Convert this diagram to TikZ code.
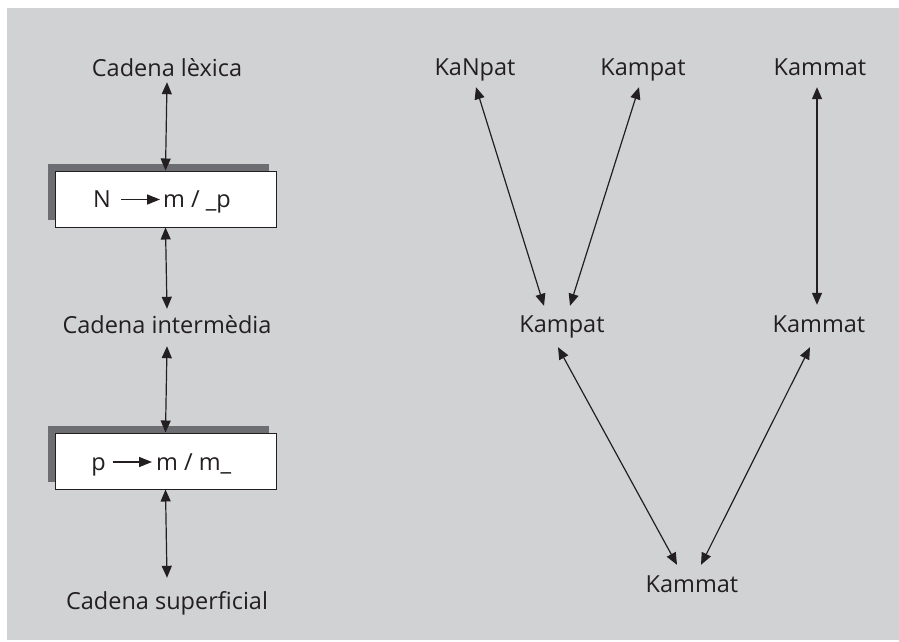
\documentclass[tikz,border=0pt]{standalone}
\usepackage{fontspec}
\setmainfont{Open Sans}
\usetikzlibrary{arrows.meta,shadows}
\definecolor{bggray}{HTML}{D1D2D4}
\definecolor{shgray}{HTML}{6D6E71}
\definecolor{ink}{HTML}{231F20}
\begin{document}
\begin{tikzpicture}[x=1pt,y=-1pt,
  lbl/.style={inner sep=0pt,anchor=base,text height=16pt,text depth=5pt,font=\fontsize{23.5}{28}\selectfont,text=ink},
  rulebox/.style={draw=ink,line width=1pt,fill=white,minimum width=221pt,minimum height=56pt,inner sep=0pt,
     general shadow={fill=shgray,shadow xshift=-7pt,shadow yshift=7pt}},
  dbl/.style={{Triangle[length=12pt,width=10pt]}-{Triangle[length=12pt,width=10pt]},line width=1.2pt,draw=ink},
  inarr/.style={-{Triangle[length=13pt,width=10pt]},line width=1.5pt,draw=ink}]
\useasboundingbox (0,0) rectangle (899,642);
\fill[white] (0,0) rectangle (899,642);
\fill[bggray] (7,8) rectangle (899,640);
% left column
\node[lbl] (lex) at (167,77) {Cadena lèxica};
\node[rulebox] (b1) at (165.5,199) {};
\node[lbl] (inter) at (167,333) {Cadena intermèdia};
\node[rulebox] (b2) at (165.5,461) {};
\node[lbl] (sup) at (167,609) {Cadena superficial};
\node[lbl] (n1) at (102,207) {N};
\node[lbl,anchor=base west] (m1) at (163,207) {m / \textunderscore p};
\node[lbl] (p2) at (98.5,470) {p};
\node[lbl,anchor=base west] (m2) at (156,470) {m / m\textunderscore};
\draw[inarr] ([xshift=10pt,yshift=7.5pt]n1.base east) -- ([xshift=-3pt,yshift=7.5pt]m1.base west);
\draw[inarr] ([xshift=7pt,yshift=8pt]p2.base east) -- ([xshift=-4pt,yshift=8pt]m2.base west);
\draw[dbl] (lex.south) -- (b1.north);
\draw[dbl] (b1.south) -- ([yshift=8pt]inter.north);
\draw[dbl] ([yshift=-8pt]inter.south) -- (b2.north);
\draw[dbl] (b2.south) -- ([yshift=15pt]sup.north);
% right side
\node[lbl] (knp) at (475,75) {KaNpat};
\node[lbl] (kp1) at (643,75) {Kampat};
\node[lbl] (km1) at (820,75) {Kammat};
\node[lbl] (kp2) at (562,332) {Kampat};
\node[lbl] (km2) at (819,332) {Kammat};
\node[lbl] (km3) at (692,592) {Kammat};
\draw[dbl] ([xshift=1pt,yshift=-7pt]knp.south) -- ([xshift=-18pt,yshift=10pt]kp2.north);
\draw[dbl] ([xshift=-4pt,yshift=-7pt]kp1.south) -- ([xshift=8pt,yshift=10pt]kp2.north);
\draw[dbl] ([xshift=-3pt,yshift=-7pt]km1.south) -- ([xshift=-2pt,yshift=11pt]km2.north);
\draw[dbl] ([xshift=-4pt,yshift=-10pt]kp2.south) -- ([xshift=-15pt,yshift=11pt]km3.north);
\draw[dbl] ([xshift=-9pt,yshift=-10pt]km2.south) -- ([xshift=9pt,yshift=11pt]km3.north);
\end{tikzpicture}
\end{document}
